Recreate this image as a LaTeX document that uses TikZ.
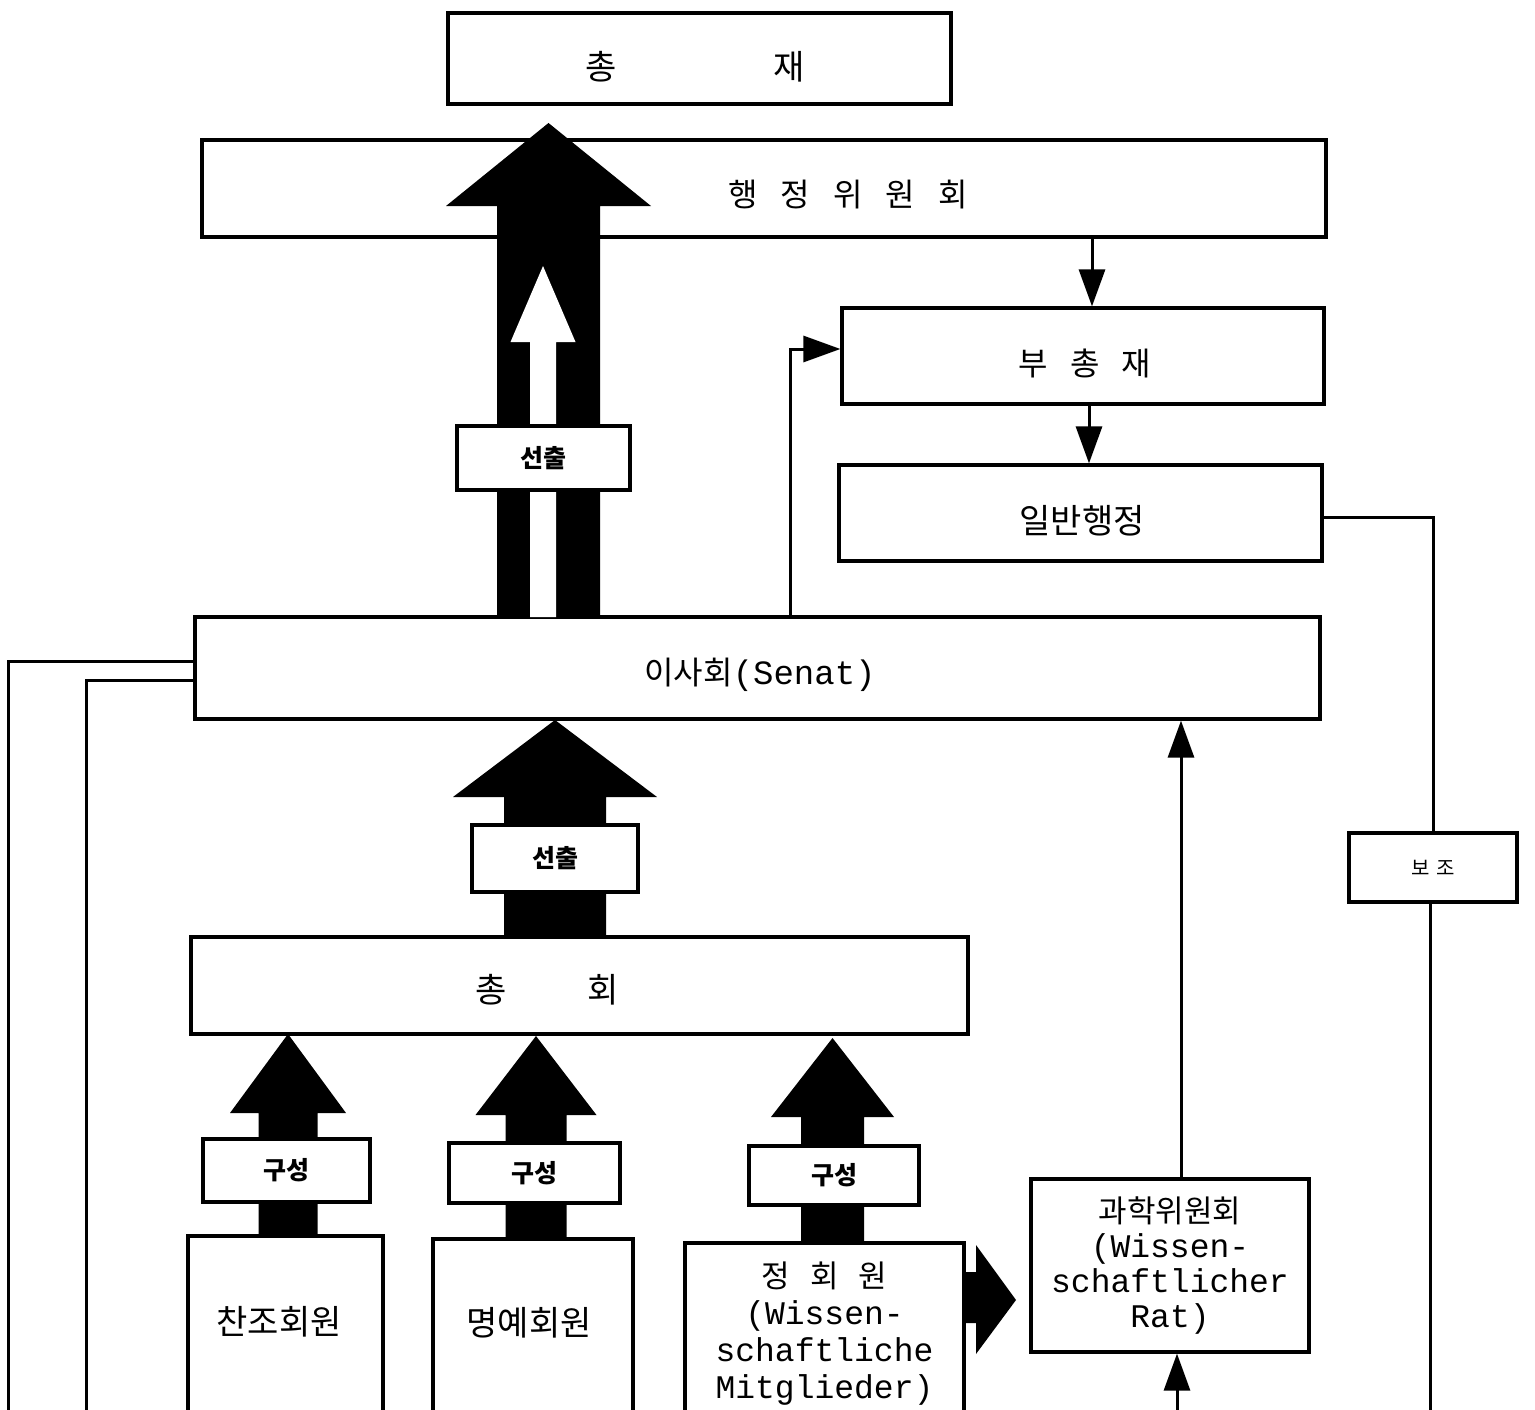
\documentclass[tikz,border=0pt]{standalone}
\usepackage{fontspec}
\newfontfamily\kr{Noto Sans CJK KR}
\newfontfamily\lat{Liberation Mono}
\usetikzlibrary{arrows.meta}
\tikzset{
  box/.style={draw, line width=3.2pt, rectangle, inner sep=0pt, fill=white},
  ktext/.style={inner sep=0pt, font=\kr\fontsize{34}{40}\selectfont},
  lbl/.style={box, font=\kr\bfseries\fontsize{25}{30}\selectfont},
  conn/.style={line width=3pt},
  tri/.style={-{Triangle[length=37pt,width=26pt]}},
}
\newcommand{\FatUp}[7]{\fill[#7] (#1-#2,#4) -- (#1-#2,#5) -- (#1-#3,#5) -- (#1,#6) -- (#1+#3,#5) -- (#1+#2,#5) -- (#1+#2,#4) -- cycle;}
\begin{document}
\begin{tikzpicture}[x=1pt,y=-1pt]
\fill[white] (0,0) rectangle (1535,1410);
\useasboundingbox (0,0) rectangle (1535,1410);

% main boxes
\node[box, minimum width=503pt, minimum height=91pt] (chongjae) at (699.5,58.5) {};
\node[ktext] (chongjaeT) at (695,67) {총\hspace{156pt}재};
\node[box, minimum width=1124pt, minimum height=97pt] (haengjeong) at (764,188.5) {};
\node[ktext, font=\kr\fontsize{32}{38}\selectfont] (haengjeongT) at (848,195) {행\hspace{23pt}정\hspace{23pt}위\hspace{23pt}원\hspace{23pt}회};
\node[box, minimum width=482pt, minimum height=96pt] (buchongjae) at (1083,356) {};
\node[ktext, font=\kr\fontsize{32}{38}\selectfont] (buchongjaeT) at (1085,363) {부\hspace{22pt}총\hspace{22pt}재};
\node[box, minimum width=483pt, minimum height=96pt] (ilban) at (1080.5,513) {};
\node[ktext] (ilbanT) at (1082,521) {일반행정};
\node[box, minimum width=1125pt, minimum height=102pt] (isa) at (757.5,668) {};
\node[ktext, font=\kr\fontsize{32}{38}\selectfont] (isaT) at (760,675) {이사회{\lat\fontsize{34}{38}\selectfont(Senat)}};
\node[box, minimum width=777pt, minimum height=97pt] (chonghoe) at (579.5,985.5) {};
\node[ktext] (chonghoeT) at (547,990) {총\hspace{81pt}회};

% member boxes
\node[box, minimum width=195pt, minimum height=189pt] (chanjo) at (285.5,1330.5) {};
\node[ktext] (chanjoT) at (279,1322) {찬조회원};
\node[box, minimum width=200pt, minimum height=186pt] (myeongye) at (533,1332) {};
\node[ktext] (myeongyeT) at (529,1323) {명예회원};
\node[box, minimum width=279pt, minimum height=182pt, align=center,
      font=\fontsize{33}{37}\selectfont] (jeonghoe) at (824.5,1334)
  {{\kr\fontsize{31}{37}\selectfont 정\hspace{20pt}회\hspace{20pt}원}\\{\lat (Wissen-}\\{\lat schaftliche}\\{\lat Mitglieder)}};
\node[box, minimum width=278pt, minimum height=173pt, align=center,
      font=\fontsize{33}{35}\selectfont] (gwahak) at (1170,1265.5)
  {{\kr\fontsize{31}{35}\selectfont 과학위원회}\\{\lat (Wissen-}\\{\lat schaftlicher}\\{\lat Rat)}};
\node[box, minimum width=168pt, minimum height=69pt, font=\kr\fontsize{20}{24}\selectfont] (boja) at (1433,867.5) {보\hspace{6pt}조};

% fat arrows
\FatUp{548.5}{51.5}{102.5}{617}{206}{123}{black}
\FatUp{543}{13}{32.5}{617}{342}{266}{white}
\FatUp{555}{51}{102}{937}{797}{720}{black}
\FatUp{288}{29.5}{58}{1236}{1113}{1034}{black}
\FatUp{536}{30.5}{60.5}{1239}{1115}{1036}{black}
\FatUp{832.5}{31.5}{61.5}{1243}{1117}{1038}{black}
\fill (964,1272) -- (976,1272) -- (976,1245) -- (1016,1300) -- (976,1354) -- (976,1323) -- (964,1323) -- cycle;

% labels on arrows
\node[lbl, minimum width=173pt, minimum height=64pt] (s1) at (543.5,458) {선출};
\node[lbl, minimum width=166pt, minimum height=67pt] (s2) at (555,858.5) {선출};
\node[lbl, minimum width=167pt, minimum height=63pt] (g1) at (286.5,1170.5) {구성};
\node[lbl, minimum width=171pt, minimum height=60pt] (g2) at (534.5,1173) {구성};
\node[lbl, minimum width=170pt, minimum height=59pt] (g3) at (834,1175.5) {구성};

% thin connectors
\coordinate (gbot) at (1177,1414);
\coordinate (bojaend) at (1430,1414);
\coordinate (l1) at (8,1414);
\coordinate (l2) at (86,1414);
\draw[conn,tri] (1092,0 |- haengjeong.south) -- (1092,0 |- buchongjae.north);
\draw[conn,tri] (1089,0 |- buchongjae.south) -- (1089,0 |- ilban.north);
\draw[conn,tri] (790,0 |- isa.north) |- (buchongjae.west |- 0,349);
\draw[conn,tri] (1181,0 |- gwahak.north) -- (1181,0 |- isa.south);
\draw[conn,tri] (gbot) -- (gbot |- gwahak.south);
\draw[conn] (ilban.east |- 0,517) -| (boja.north);
\draw[conn] (bojaend |- boja.south) -- (bojaend);
\draw[conn] (isa.west |- 0,661) -| (l1);
\draw[conn] (isa.west |- 0,680) -| (l2);
\end{tikzpicture}
\end{document}
